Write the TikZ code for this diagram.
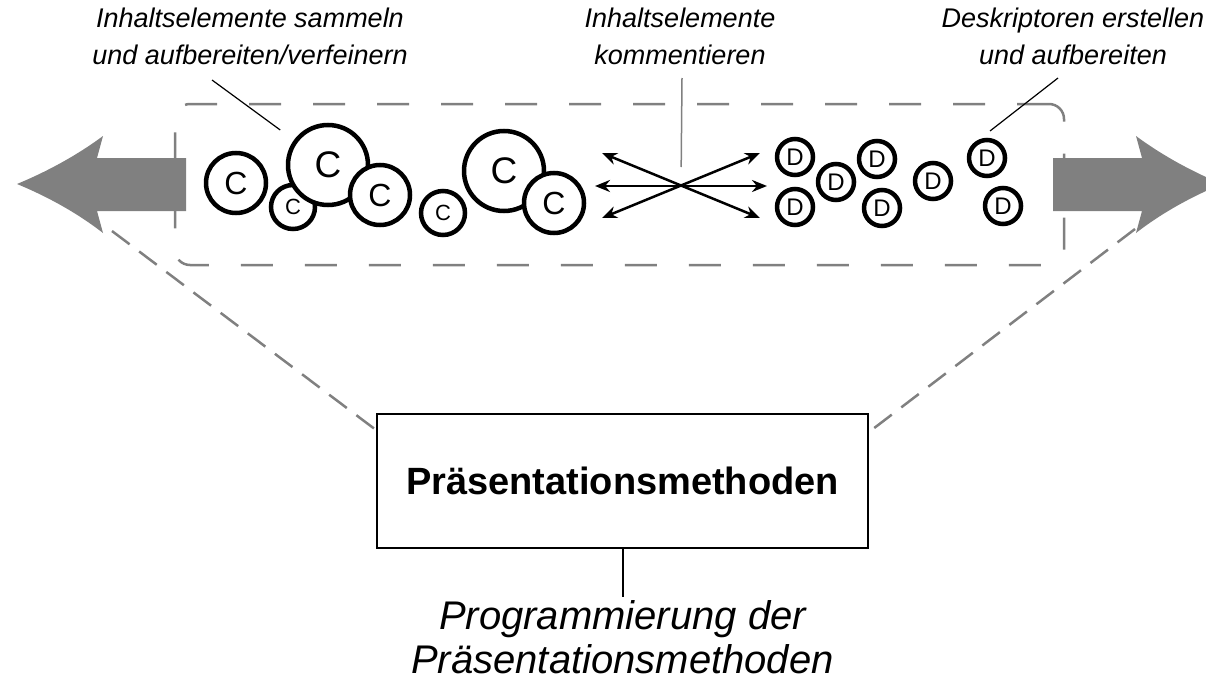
\documentclass[tikz,border=0pt]{standalone}
\usepackage{fontspec}
\setmainfont{Liberation Sans}
\usetikzlibrary{arrows.meta}
\definecolor{framegray}{RGB}{128,128,128}
\definecolor{flowgray}{RGB}{128,128,128}

\tikzset{
  lbl/.style={font=\fontsize{27}{37}\selectfont\itshape, align=center, inner sep=0pt},
  elt/.style n args={2}{circle, draw=black, fill=white, line width=4.5pt,
    inner sep=0pt, minimum size=#1pt, font=\fontsize{#2}{#2}\selectfont},
  fan/.style={draw=framegray, line width=2.5pt, dash pattern=on 22pt off 12pt},
  pointer/.style={draw=black, line width=1.2pt},
  dbl/.style={draw=black, line width=2.5pt, {Stealth[length=15pt,width=12pt]}-{Stealth[length=15pt,width=12pt]}},
  methodbox/.style={draw=black, line width=2pt, inner sep=0pt, minimum width=491pt,
    minimum height=134pt, font=\fontsize{38}{38}\selectfont\bfseries}
}

\begin{document}
\begin{tikzpicture}[x=1pt,y=-1pt]
\useasboundingbox (0,0) rectangle (1206,685);

% labels
\node[lbl, anchor=north] (llab) at (250,8) {Inhaltselemente sammeln\\und aufbereiten/verfeinern};
\node[lbl, anchor=north] (mlab) at (680,8) {Inhaltselemente\\kommentieren};
\node[lbl, anchor=north] (rlab) at (1073,8) {Deskriptoren erstellen\\und aufbereiten};

% method box and its label
\node[methodbox] (box) at (622.5,481) {Präsentationsmethoden};
\node[font=\fontsize{40}{44}\selectfont\itshape, align=center, inner sep=0pt, anchor=north]
  (blab) at (622.5,600) {Programmierung der\\Präsentationsmethoden};

% fan lines from the frame down to the box
\coordinate (lfan) at (112,231);
\coordinate (lfanend) at (376,430);
\coordinate (rfan) at (1135,229);
\coordinate (rfanend) at (869,432);
\draw[fan] (lfan) -- (lfanend);
\draw[fan] (rfan) -- (rfanend);

% dashed frame
\node[draw=framegray, line width=2.5pt, dash pattern=on 32pt off 32pt, rounded corners=15pt,
  minimum width=889pt, minimum height=161pt, inner sep=0pt] (frame) at (619.5,184.5) {};

% big flow arrows
\fill[flowgray] (17,184) .. controls (46,172) and (76,156) .. (103,136) -- (97,158) -- (186,158)
  -- (186,211) -- (97,211) -- (103,233) .. controls (76,212) and (46,196) .. (17,184) -- cycle;
\fill[flowgray] (1222,184) .. controls (1193,172) and (1163,156) .. (1136,136) -- (1142,158) -- (1053,158)
  -- (1053,211) -- (1142,211) -- (1136,233) .. controls (1163,212) and (1193,196) .. (1222,184) -- cycle;

% content elements
\node[elt={60}{32}] (c1) at (236,183) {C};
\node[elt={44}{22}] (c2) at (293,207) {C};
\node[elt={80}{37}] (c3) at (328,165) {C};
\node[elt={60}{32}] (c4) at (380,195) {C};
\node[elt={44}{22}] (c5) at (443,213) {C};
\node[elt={80}{37}] (c6) at (504,171) {C};
\node[elt={60}{32}] (c7) at (554,203) {C};

% descriptors
\node[elt={36}{24}] (d1) at (795,157) {D};
\node[elt={36}{24}] (d2) at (795,207) {D};
\node[elt={36}{24}] (d3) at (836,182) {D};
\node[elt={36}{24}] (d4) at (877,159) {D};
\node[elt={36}{24}] (d5) at (882,208) {D};
\node[elt={36}{24}] (d6) at (933,181) {D};
\node[elt={36}{24}] (d7) at (987,158) {D};
\node[elt={36}{24}] (d8) at (1003,206) {D};

% commenting arrows
\coordinate (x) at (681,186);
\coordinate (ul) at (602,153);
\coordinate (ml) at (595,186);
\coordinate (dl) at (602,218);
\coordinate (ur) at (760,153);
\coordinate (mr) at (767,186);
\coordinate (dr) at (760,218);
\draw[dbl] (ul) -- (dr);
\draw[dbl] (ml) -- (mr);
\draw[dbl] (dl) -- (ur);

% label pointers
\coordinate (lstart) at (212,80);
\draw[pointer, shorten >=17pt] (lstart) -- (c3);
\coordinate (mstart) at (682,78);
\draw[draw=framegray, line width=1.5pt, shorten >=19pt] (mstart) -- (x);
\coordinate (rstart) at (1058,78);
\coordinate (rend) at (990,131);
\draw[pointer] (rstart) -- (rend);
\coordinate (bend) at (622.5,597);
\draw[draw=black, line width=2pt] (box.south) -- (bend);
\end{tikzpicture}
\end{document}
